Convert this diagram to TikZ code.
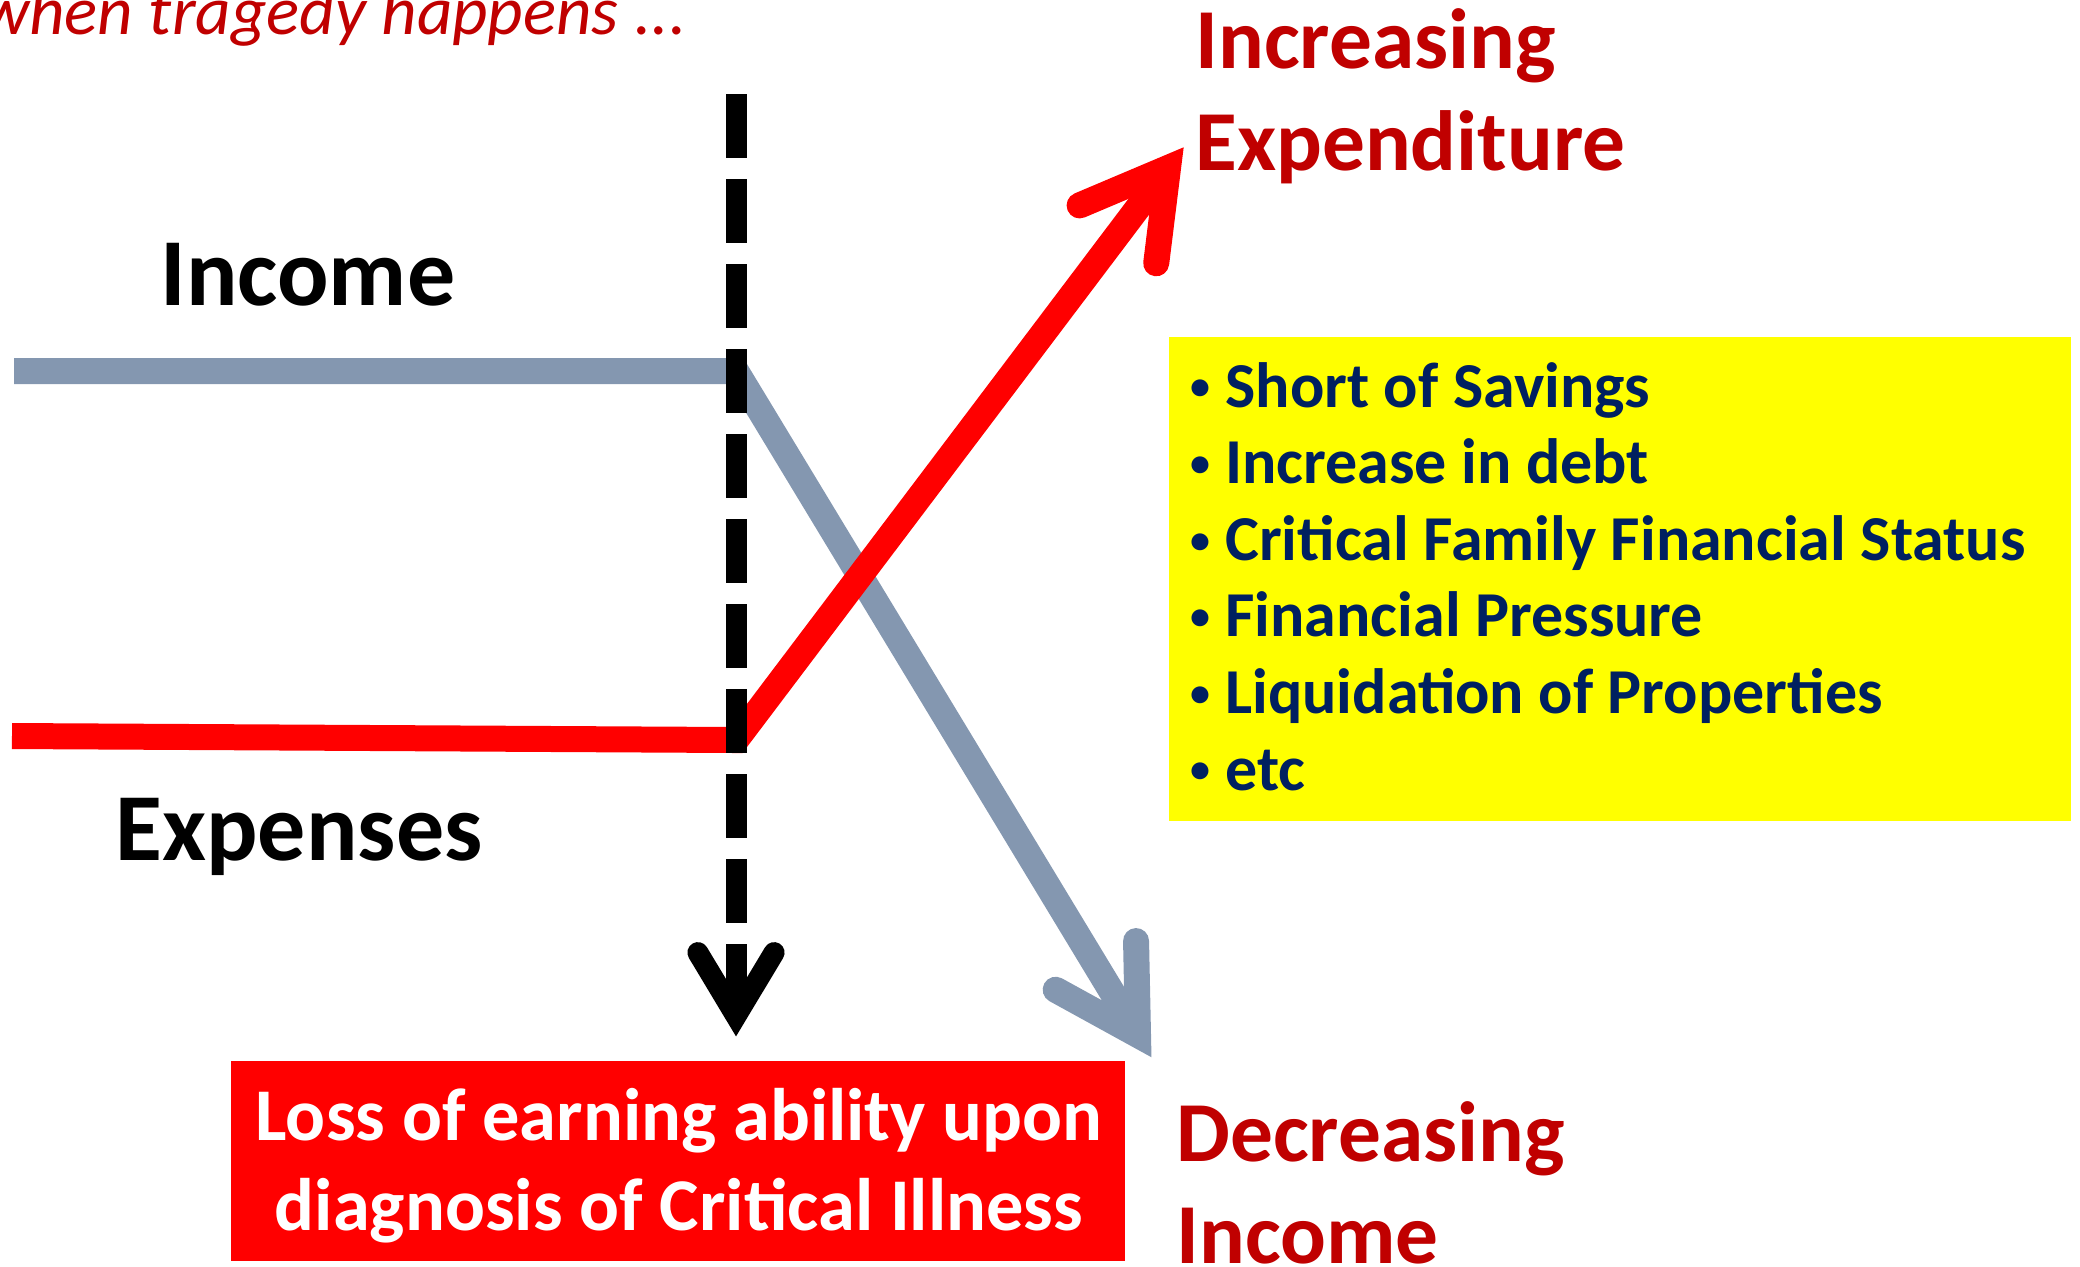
\documentclass[tikz,border=0pt]{standalone}
\usepackage{fontspec}
\setmainfont{Carlito}
\usetikzlibrary{calc}
\definecolor{headred}{HTML}{C00000}
\definecolor{listnavy}{HTML}{002060}
\definecolor{incomegrey}{HTML}{8497B0}
\definecolor{alertred}{HTML}{FF0000}
\definecolor{notebg}{HTML}{FFFF00}
% a small round bullet followed by the item text
\newcommand\bulletitem[1]{\makebox[20.5pt][l]{\hspace{3pt}\raisebox{3.6pt}{\fontsize{20}{20}\selectfont •}}#1}
\begin{document}
\begin{tikzpicture}[x=0.5pt,y=-0.5pt,
  incomeline/.style={line width=13pt, draw=incomegrey},
  expenseline/.style={line width=13pt, draw=alertred},
  eventline/.style={line width=10.5pt, draw=black},
  tipbarbs/.style={line cap=round, line join=miter},
  lbl/.style={inner sep=0pt, anchor=base west},
  bigtext/.style={font=\fontsize{48}{57}\selectfont\bfseries},
  trendtext/.style={font=\fontsize{42.7}{51}\selectfont\bfseries, text=headred},
  listtext/.style={font=\fontsize{32}{38.3}\selectfont\bfseries, text=listnavy},
  boxtext/.style={font=\fontsize{37.2}{45}\selectfont\bfseries, text=white}
]
\useasboundingbox (0,0) rectangle (2080,1266);

% key points of the three lines
\coordinate (incL) at (14,371);
\coordinate (incK) at (736,371);
\coordinate (incV) at (1138,1035);
\coordinate (expL) at (12,736);
\coordinate (expK) at (736,740);
\coordinate (expV) at (1168,168);
\coordinate (evtT) at (736,94);
\coordinate (evtV) at (736,1016);

% boxes
\node[fill=notebg, minimum width=451pt, minimum height=242pt, inner sep=0pt, anchor=north west] (effects) at (1169,337) {};
\node[fill=alertred, minimum width=447pt, minimum height=100pt, inner sep=0pt, anchor=north west] (lossbox) at (231,1061) {};

% income falls
\draw[incomeline] (incL) -- (incK) -- (incV);
\draw[incomeline, tipbarbs] ($(incV)!47pt!30:(incK)$) -- (incV) -- ($(incV)!47pt!-30:(incK)$);

% expenses rise
\draw[expenseline] (expL) -- (expK) -- (expV);
\draw[expenseline, tipbarbs] ($(expV)!48pt!30:(expK)$) -- (expV) -- ($(expV)!48pt!-30:(expK)$);

% moment of diagnosis
\draw[eventline, dash pattern=on 32pt off 10.5pt] (evtT) -- (evtV);
\draw[eventline, tipbarbs] ($(evtV)!37pt!31:(evtT)$) -- (evtV) -- ($(evtV)!37pt!-31:(evtT)$);

% labels
\node[inner sep=0pt, anchor=base east, font=\fontsize{34.5}{40}\selectfont\itshape, text=headred] (when) at (687,34) {when tragedy happens ...};
\node[lbl, bigtext] (income) at (160,305) {Income};
\node[lbl, bigtext] (expenses) at (115,860) {Expenses};
\node[lbl, trendtext] (upexp) at (1195,68) {\begin{tabular}[t]{@{}l@{}}Increasing\\Expenditure\end{tabular}};
\node[lbl, trendtext] (downinc) at (1176,1161) {\begin{tabular}[t]{@{}l@{}}Decreasing\\Income\end{tabular}};
\node[lbl, listtext] (effectlist) at (1184,407) {\begin{tabular}[t]{@{}l@{}}
\bulletitem{Short of Savings}\\
\bulletitem{Increase in debt}\\
\bulletitem{Critical Family Financial Status}\\
\bulletitem{Financial Pressure}\\
\bulletitem{Liquidation of Properties}\\
\bulletitem{etc}
\end{tabular}};
\node[inner sep=0pt, anchor=base, boxtext] (losstext) at (679,1140) {\begin{tabular}[t]{@{}c@{}}Loss of earning ability upon\\diagnosis of Critical Illness\end{tabular}};
\end{tikzpicture}
\end{document}
